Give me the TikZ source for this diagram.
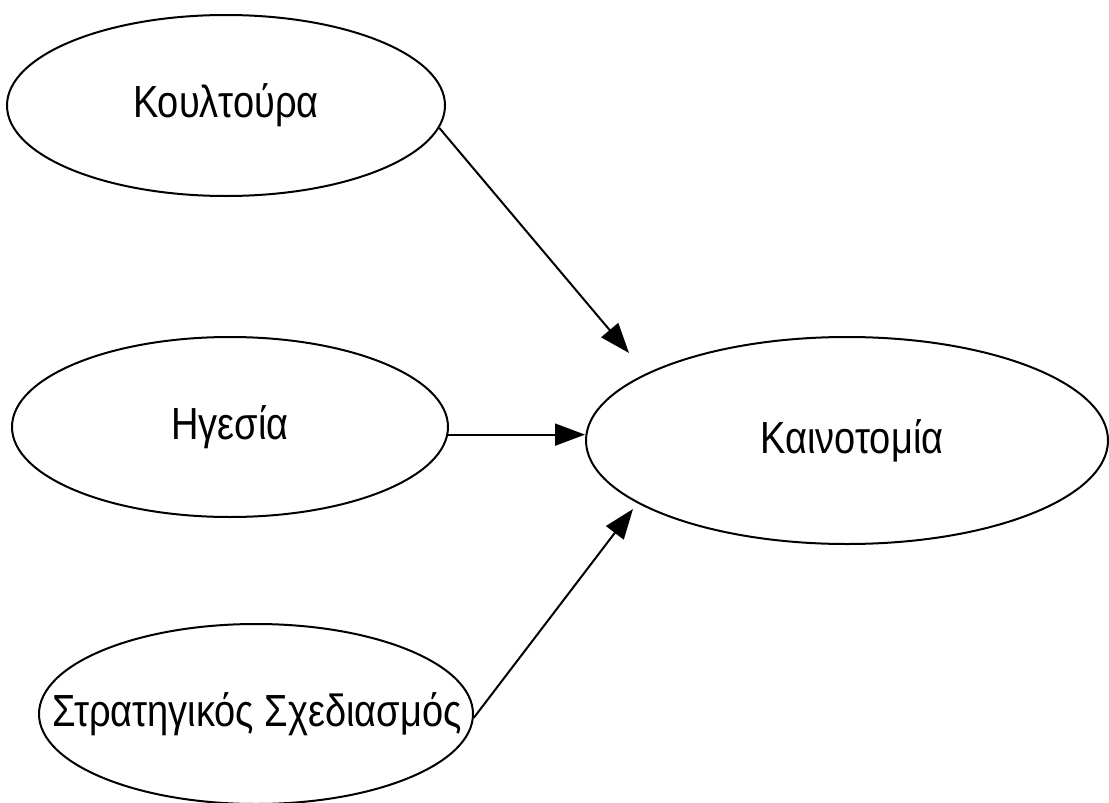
\documentclass[tikz,border=0pt]{standalone}
\usepackage{fontspec}
\setmainfont{Liberation Sans}[FakeStretch=0.845]
\usetikzlibrary{shapes.geometric,arrows.meta}
\begin{document}
\begin{tikzpicture}[x=1pt,y=-1pt,
  oval/.style={draw,ellipse,line width=2pt,inner sep=0pt},
  lbl/.style={font=\fontsize{45}{54}\selectfont,inner sep=0pt},
  arr/.style={line width=2pt,-{Triangle[length=30pt,width=22pt]}}]
\useasboundingbox (0,0) rectangle (1109,803);
\node[oval,minimum width=438pt,minimum height=181pt] (k) at (226,105.5) {};
\node[lbl] (kt) at (k.center) {Κουλτούρα};
\node[oval,minimum width=436pt,minimum height=180pt] (h) at (230,427) {};
\node[lbl] (ht) at (h.center) {Ηγεσία};
\node[oval,minimum width=434pt,minimum height=180pt] (s) at (256,714) {};
\node[lbl] (st) at (257,714) {Στρατηγικός Σχεδιασμός};
\node[oval,minimum width=522pt,minimum height=207pt] (n) at (847,440.5) {};
\node[lbl] (nt) at (852,440.5) {Καινοτομία};
\coordinate (t1) at (629,353);
\coordinate (t3) at (633,509);
\draw[arr] (k.-6.5) -- (t1);
\draw[arr] (h.-2.6) -- (h.-2.6 -| n.west);
\draw[arr] (s.-1) -- (t3);
\end{tikzpicture}
\end{document}
